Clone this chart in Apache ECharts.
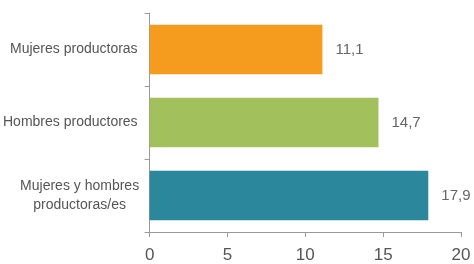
<!DOCTYPE html>
<html>
<head>
<meta charset="utf-8">
<script src="https://cdn.jsdelivr.net/npm/echarts@6/dist/echarts.min.js"></script>
<style>
  html, body { margin: 0; padding: 0; background: #fff; }
  #chart { width: 474px; height: 264px; }
</style>
</head>
<body>
<div id="chart"></div>
<script>
// datos
const categories = ['Mujeres productoras', 'Hombres productores', 'Mujeres y hombres\nproductoras/es'];
const values = [11.1, 14.7, 17.9];
const barColors = ['#F59C1E', '#A2C15C', '#2A879C'];
const xTicks = [0, 5, 10, 15, 20];

const chart = echarts.init(document.getElementById('chart'));
const font = '"Liberation Sans", sans-serif';

chart.setOption({
  animation: false,
  grid: { left: 149, right: 13, top: 13, bottom: 27 },
  xAxis: {
    type: 'value',
    min: xTicks[0],
    max: xTicks[xTicks.length - 1],
    interval: 5,
    splitLine: { show: false },
    axisLine: { show: true, lineStyle: { color: '#9a9a9a', width: 1 } },
    axisTick: { show: true, length: 5, lineStyle: { color: '#9a9a9a' } },
    axisLabel: { color: '#555', fontSize: 17, fontFamily: font, margin: 15 }
  },
  yAxis: {
    type: 'category',
    data: categories,
    inverse: true,
    axisLine: { show: true, lineStyle: { color: '#9a9a9a', width: 1 } },
    axisTick: { show: true, length: 5, lineStyle: { color: '#9a9a9a' } },
    axisLabel: {
      color: '#555',
      fontSize: 14,
      fontFamily: font,
      margin: 12,
      lineHeight: 19,
      // etiquetas de varias líneas centradas entre sí
      formatter: v => v.indexOf('\n') < 0 ? v : v.split('\n').map(s => '{c|' + s + '}').join('\n'),
      rich: {
        c: { width: 116, align: 'center', fontSize: 14, fontFamily: font, color: '#555', lineHeight: 19 }
      }
    }
  },
  series: [{
    type: 'bar',
    data: values.map((v, i) => ({ value: v, itemStyle: { color: barColors[i] } })),
    barCategoryGap: '32%',
    label: {
      show: true,
      position: 'right',
      distance: 13,
      color: '#666',
      fontSize: 15,
      fontFamily: font,
      formatter: p => String(p.value).replace('.', ',')
    }
  }]
});
</script>
</body>
</html>
